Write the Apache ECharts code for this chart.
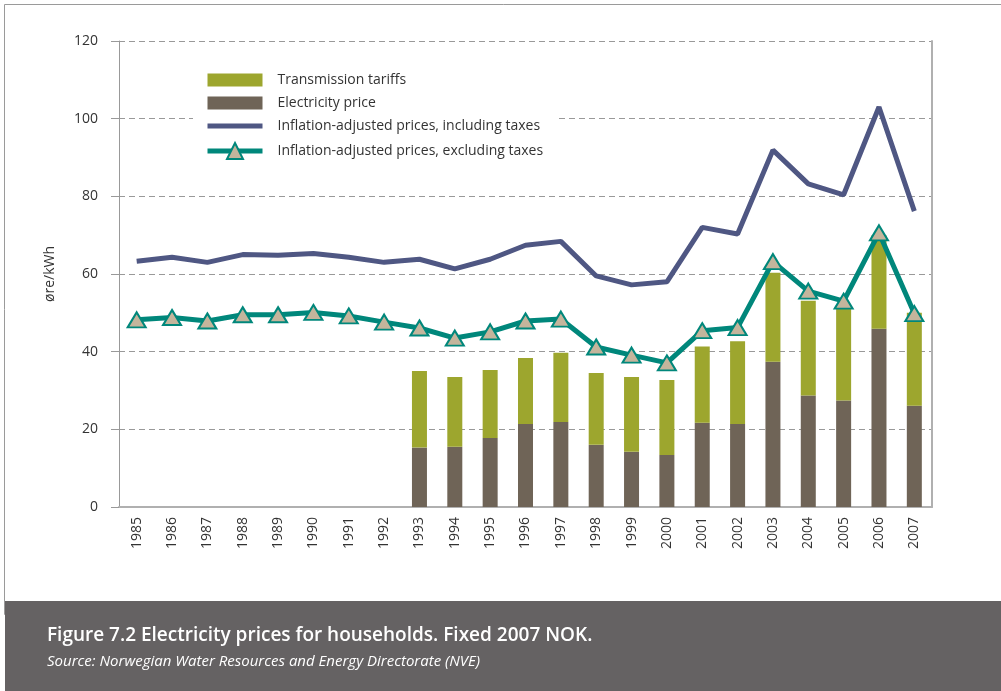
<!DOCTYPE html>
<html>
<head>
<meta charset="utf-8">
<script src="https://cdn.jsdelivr.net/npm/echarts@6/dist/echarts.min.js"></script>
<style>
  html, body { margin: 0; padding: 0; background: #fff; }
  #chart1 { width: 1001px; height: 691px; }
</style>
</head>
<body>
<div id="chart1"></div>
<script>
var years = ['1985','1986','1987','1988','1989','1990','1991','1992','1993','1994','1995','1996',
             '1997','1998','1999','2000','2001','2002','2003','2004','2005','2006','2007'];

// ore/kWh
var electricityPrice = [null, null, null, null, null, null, null, null,
    15.3, 15.5, 17.8, 21.4, 21.9, 16.0, 14.2, 13.4, 21.7, 21.4, 37.4, 28.7, 27.4, 45.9, 26.1];
var transmissionTariffs = [null, null, null, null, null, null, null, null,
    19.7, 18.0, 17.5, 17.0, 17.8, 18.5, 19.3, 19.3, 19.6, 21.3, 22.9, 24.4, 23.6, 24.1, 23.9];
var inclTaxes = [63.3, 64.3, 63.0, 65.0, 64.8, 65.3, 64.3, 63.0, 63.8, 61.3, 63.8, 67.4,
    68.4, 59.5, 57.2, 58.0, 72.0, 70.3, 91.9, 83.2, 80.4, 103.0, 76.2];
var exclTaxes = [48.2, 48.8, 47.9, 49.5, 49.5, 50.1, 49.2, 47.6, 46.1, 43.5, 45.1, 47.9,
    48.4, 41.2, 39.1, 37.1, 45.4, 46.2, 63.2, 55.6, 53.0, 70.6, 49.8];

var font = 'Open Sans';
var blue = '#4f5783', teal = '#00877b';

var myChart = echarts.init(document.getElementById('chart1'));

myChart.setOption({
    animation: false,
    textStyle: { fontFamily: font },
    graphic: [
        {   // outer frame
            type: 'rect',
            shape: { x: 4.5, y: 4.5, width: 1010, height: 610 },
            style: { fill: 'none', stroke: '#9a9a9a', lineWidth: 1 },
            z: 0
        },
        {   // caption band
            type: 'rect',
            shape: { x: 5, y: 601, width: 1001, height: 90 },
            style: { fill: '#656263' },
            z: 1
        },
        {
            type: 'text',
            left: 47, top: 626,
            style: {
                text: 'Figure 7.2 Electricity prices for households. Fixed 2007 NOK.',
                fill: '#fff', font: '600 19px "Open Sans"'
            },
            z: 2
        },
        {
            type: 'text',
            left: 47, top: 654,
            style: {
                text: 'Source: Norwegian Water Resources and Energy Directorate (NVE)',
                fill: '#fff', font: 'italic 15px "Open Sans"'
            },
            z: 2
        }
    ],
    legend: {
        orient: 'vertical',
        left: 193,
        top: 67,
        padding: [6, 12, 6, 12],
        backgroundColor: '#fff',
        itemWidth: 55,
        itemHeight: 20,
        itemGap: 9,
        textStyle: { fontSize: 14, color: '#333', fontFamily: font, padding: [0, 0, 0, 10] },
        data: [
            { name: 'Transmission tariffs', icon: 'path://M0,0H55V13H0Z' },
            { name: 'Electricity price', icon: 'path://M0,0H55V13H0Z' },
            { name: 'Inflation-adjusted prices, including taxes', icon: 'path://M0,0H55V5H0Z' },
            { name: 'Inflation-adjusted prices, excluding taxes', lineStyle: { width: 5 } }
        ]
    },
    grid: { left: 119, right: 69, top: 41, bottom: 184 },
    xAxis: {
        type: 'category',
        data: years,
        boundaryGap: true,
        axisLine: { lineStyle: { color: '#b0b0b0', width: 2 } },
        axisTick: { interval: 0, length: 7, lineStyle: { color: '#999' } },
        axisLabel: { interval: 0, rotate: 90, margin: 10, fontSize: 14, color: '#333', fontFamily: font }
    },
    yAxis: [
        {
            type: 'value',
            min: 0, max: 120, interval: 20,
            name: 'øre/kWh',
            nameLocation: 'middle',
            nameGap: 62,
            nameTextStyle: { fontSize: 14, color: '#333', fontFamily: font },
            axisLine: { show: true, lineStyle: { color: '#999' } },
            axisTick: { show: true, length: 8, lineStyle: { color: '#999' } },
            axisLabel: { margin: 21, fontSize: 14, color: '#333', fontFamily: font },
            splitLine: { lineStyle: { color: '#999', type: [6, 4] } }
        },
        {
            type: 'value',
            position: 'right',
            min: 0, max: 120, interval: 20,
            axisLine: { show: true, lineStyle: { color: '#b0b0b0', width: 2 } },
            axisTick: { show: false },
            axisLabel: { show: false },
            splitLine: { show: false }
        }
    ],
    series: [
        {
            name: 'Electricity price',
            type: 'bar',
            stack: 'price',
            barWidth: 15,
            itemStyle: { color: '#6f6457' },
            data: electricityPrice
        },
        {
            name: 'Transmission tariffs',
            type: 'bar',
            stack: 'price',
            barWidth: 15,
            itemStyle: { color: '#9da62e' },
            data: transmissionTariffs
        },
        {
            name: 'Inflation-adjusted prices, including taxes',
            type: 'line',
            symbol: 'none',
            lineStyle: { color: blue, width: 5 },
            itemStyle: { color: blue },
            z: 3,
            data: inclTaxes
        },
        {
            name: 'Inflation-adjusted prices, excluding taxes',
            type: 'line',
            symbol: 'triangle',
            symbolSize: [18, 15],
            lineStyle: { color: teal, width: 5 },
            itemStyle: { color: '#c4b59c', borderColor: teal, borderWidth: 2 },
            z: 4,
            data: exclTaxes
        }
    ]
});
</script>
</body>
</html>
